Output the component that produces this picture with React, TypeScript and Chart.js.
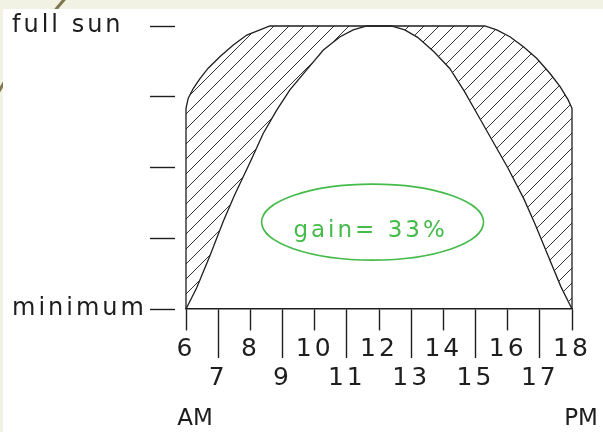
import { useEffect, useRef } from 'react';
import { Chart, registerables } from 'chart.js';

Chart.register(...registerables);

// Hours of daylight on the time axis
const hourTicks = [6, 7, 8, 9, 10, 11, 12, 13, 14, 15, 16, 17, 18];
const dayHalfLabels = ['AM', 'PM'];
const dayHalfHours = [6, 18];

// Sun level: 0 = minimum, 1 = full sun
const levelTicks = [0, 0.25, 0.5, 0.75, 1];
const levelLabels = ['minimum', '', '', '', 'full sun'];

// Tracking panel output through the day
const trackingHours = [6, 6, 6.07, 6.23, 6.44, 6.69, 7.06, 7.47, 7.89, 8.3, 8.61, 15.29, 15.66, 16.07, 16.49, 16.9, 17.31, 17.63, 17.88, 18, 18];
const trackingLevel = [0, 0.709, 0.745, 0.78, 0.815, 0.851, 0.892, 0.933, 0.968, 0.986, 1, 1, 0.986, 0.962, 0.927, 0.886, 0.833, 0.786, 0.739, 0.709, 0];

// Fixed panel output through the day
const fixedHours = [6, 6.33, 6.75, 7.16, 7.5, 8.0, 8.4, 8.82, 9.23, 9.75, 10.27, 10.79, 11.2, 11.62, 12.0, 12.38, 12.8, 13.2, 13.7, 14.2, 14.65, 15.05, 15.5, 16.0, 16.5, 16.85, 17.25, 17.65, 18];
const fixedLevel = [0, 0.074, 0.19, 0.31, 0.4, 0.52, 0.62, 0.703, 0.774, 0.845, 0.915, 0.962, 0.986, 1.0, 1.0, 1.0, 0.986, 0.96, 0.91, 0.85, 0.77, 0.69, 0.6, 0.5, 0.39, 0.3, 0.19, 0.08, 0];

// Annotation in the middle of the day: label and where it sits (hour, level)
const gainLabel = 'gain= 33%';
const gainAt = [11.8, 0.307];

const INK = '#1e1e1e';
const GREEN = '#45bb4a';
const FONT = '"DejaVu Sans", sans-serif';

function hatchPattern(ctx: CanvasRenderingContext2D): CanvasPattern | string {
  const size = 15;
  const tile = document.createElement('canvas');
  tile.width = size;
  tile.height = size;
  const t = tile.getContext('2d');
  if (!t) return '#ccc';
  t.strokeStyle = '#333';
  t.lineWidth = 1;
  for (const dx of [-size, 0, size]) {
    t.beginPath();
    t.moveTo(dx - 2, size + 2);
    t.lineTo(dx + size + 2, -2);
    t.stroke();
  }
  return ctx.createPattern(tile, 'repeat') || '#ccc';
}

const backdrop = {
  id: 'backdrop',
  beforeDraw(chart: any) {
    const { ctx, width, height } = chart;
    ctx.save();
    ctx.fillStyle = '#f1f2e3';
    ctx.fillRect(0, 0, width, height);
    ctx.strokeStyle = '#82784f';
    ctx.lineWidth = 3;
    ctx.beginPath();
    ctx.arc(431, 329, 493, 0, Math.PI * 2);
    ctx.stroke();
    ctx.fillStyle = '#ffffff';
    ctx.fillRect(3, 9, width - 3, height - 9);
    ctx.restore();
    ctx.letterSpacing = '3px';
  },
};

const notes = {
  id: 'notes',
  afterDraw(chart: any) {
    const { ctx } = chart;
    const xs = chart.scales.x;
    const ys = chart.scales.y;
    ctx.save();
    ctx.letterSpacing = '0px';
    ctx.font = `23px ${FONT}`;
    ctx.fillStyle = INK;
    ctx.textAlign = 'center';
    ctx.textBaseline = 'middle';
    dayHalfLabels.forEach((t, i) => {
      ctx.fillText(t, xs.getPixelForValue(dayHalfHours[i]) + 9, ys.getPixelForValue(0) + 110);
    });

    const cx = xs.getPixelForValue(gainAt[0]);
    const cy = ys.getPixelForValue(gainAt[1]);
    ctx.strokeStyle = GREEN;
    ctx.lineWidth = 1.6;
    ctx.beginPath();
    ctx.ellipse(cx, cy, 111, 38, 0, 0, Math.PI * 2);
    ctx.stroke();
    ctx.letterSpacing = '3px';
    ctx.fillStyle = GREEN;
    ctx.textBaseline = 'alphabetic';
    ctx.fillText(gainLabel, cx - 2, cy + 15);
    ctx.restore();
    ctx.letterSpacing = '0px';
  },
};

export default function App() {
  const ref = useRef<HTMLCanvasElement>(null);

  useEffect(() => {
    document.body.style.margin = '0';
    const canvas = ref.current;
    if (!canvas) return;
    const ctx = canvas.getContext('2d');
    if (!ctx) return;

    const tracking = trackingHours.map((h, i) => ({ x: h, y: trackingLevel[i] }));
    const fixed = fixedHours.map((h, i) => ({ x: h, y: fixedLevel[i] }));

    const chart = new Chart(canvas, {
      type: 'line',
      data: {
        datasets: [
          {
            label: 'tracking',
            data: tracking,
            borderColor: INK,
            borderWidth: 1.3,
            pointRadius: 0,
            tension: 0,
            fill: 1,
            backgroundColor: hatchPattern(ctx),
            clip: false,
          },
          {
            label: 'fixed',
            data: fixed,
            borderColor: INK,
            borderWidth: 1.3,
            pointRadius: 0,
            tension: 0,
            fill: false,
            clip: false,
          },
        ],
      },
      options: {
        animation: false,
        responsive: false,
        events: [],
        layout: { padding: { left: 12, top: 26, right: 31, bottom: 0 } },
        plugins: { legend: { display: false }, tooltip: { enabled: false } },
        scales: {
          x: {
            type: 'linear',
            min: 6,
            max: 18,
            afterBuildTicks: (s: any) => {
              s.ticks = hourTicks.map((v) => ({ value: v }));
            },
            afterFit: (s: any) => {
              s.height = 123;
            },
            border: { display: true, color: INK, width: 1.4 },
            grid: {
              drawOnChartArea: false,
              drawTicks: true,
              tickLength: 49,
              tickColor: INK,
              tickWidth: 1.4,
              tickBorderDash: (c: any) => (c.tick && c.tick.value % 2 === 0 ? [21, 100] : []),
            },
            ticks: {
              autoSkip: false,
              maxRotation: 0,
              minRotation: 0,
              padding: -23,
              color: INK,
              font: { family: FONT, size: 25, lineHeight: 1.16 },
              callback: (v: any) => {
                const n = Number(v);
                return n % 2 === 0 ? [String(n), ''] : ['', String(n)];
              },
            },
          },
          y: {
            min: 0,
            max: 1,
            afterBuildTicks: (s: any) => {
              s.ticks = levelTicks.map((v) => ({ value: v }));
            },
            afterFit: (s: any) => {
              s.width = 174;
            },
            border: { display: false },
            grid: {
              drawOnChartArea: false,
              drawTicks: true,
              tickLength: 36,
              tickColor: INK,
              tickWidth: 1.4,
              tickBorderDash: [25, 20],
            },
            ticks: {
              crossAlign: 'far',
              padding: 0,
              color: INK,
              font: { family: FONT, size: 24 },
              callback: (v: any) => {
                const i = levelTicks.indexOf(Number(v));
                return i >= 0 ? levelLabels[i] : '';
              },
            },
          },
        },
      },
      plugins: [backdrop, notes],
    } as any);

    return () => chart.destroy();
  }, []);

  return (
    <div style={{ width: 603, height: 432 }}>
      <style>{'body{margin:0}'}</style>
      <canvas ref={ref} width={603} height={432} style={{ display: 'block', width: 603, height: 432 }} />
    </div>
  );
}
